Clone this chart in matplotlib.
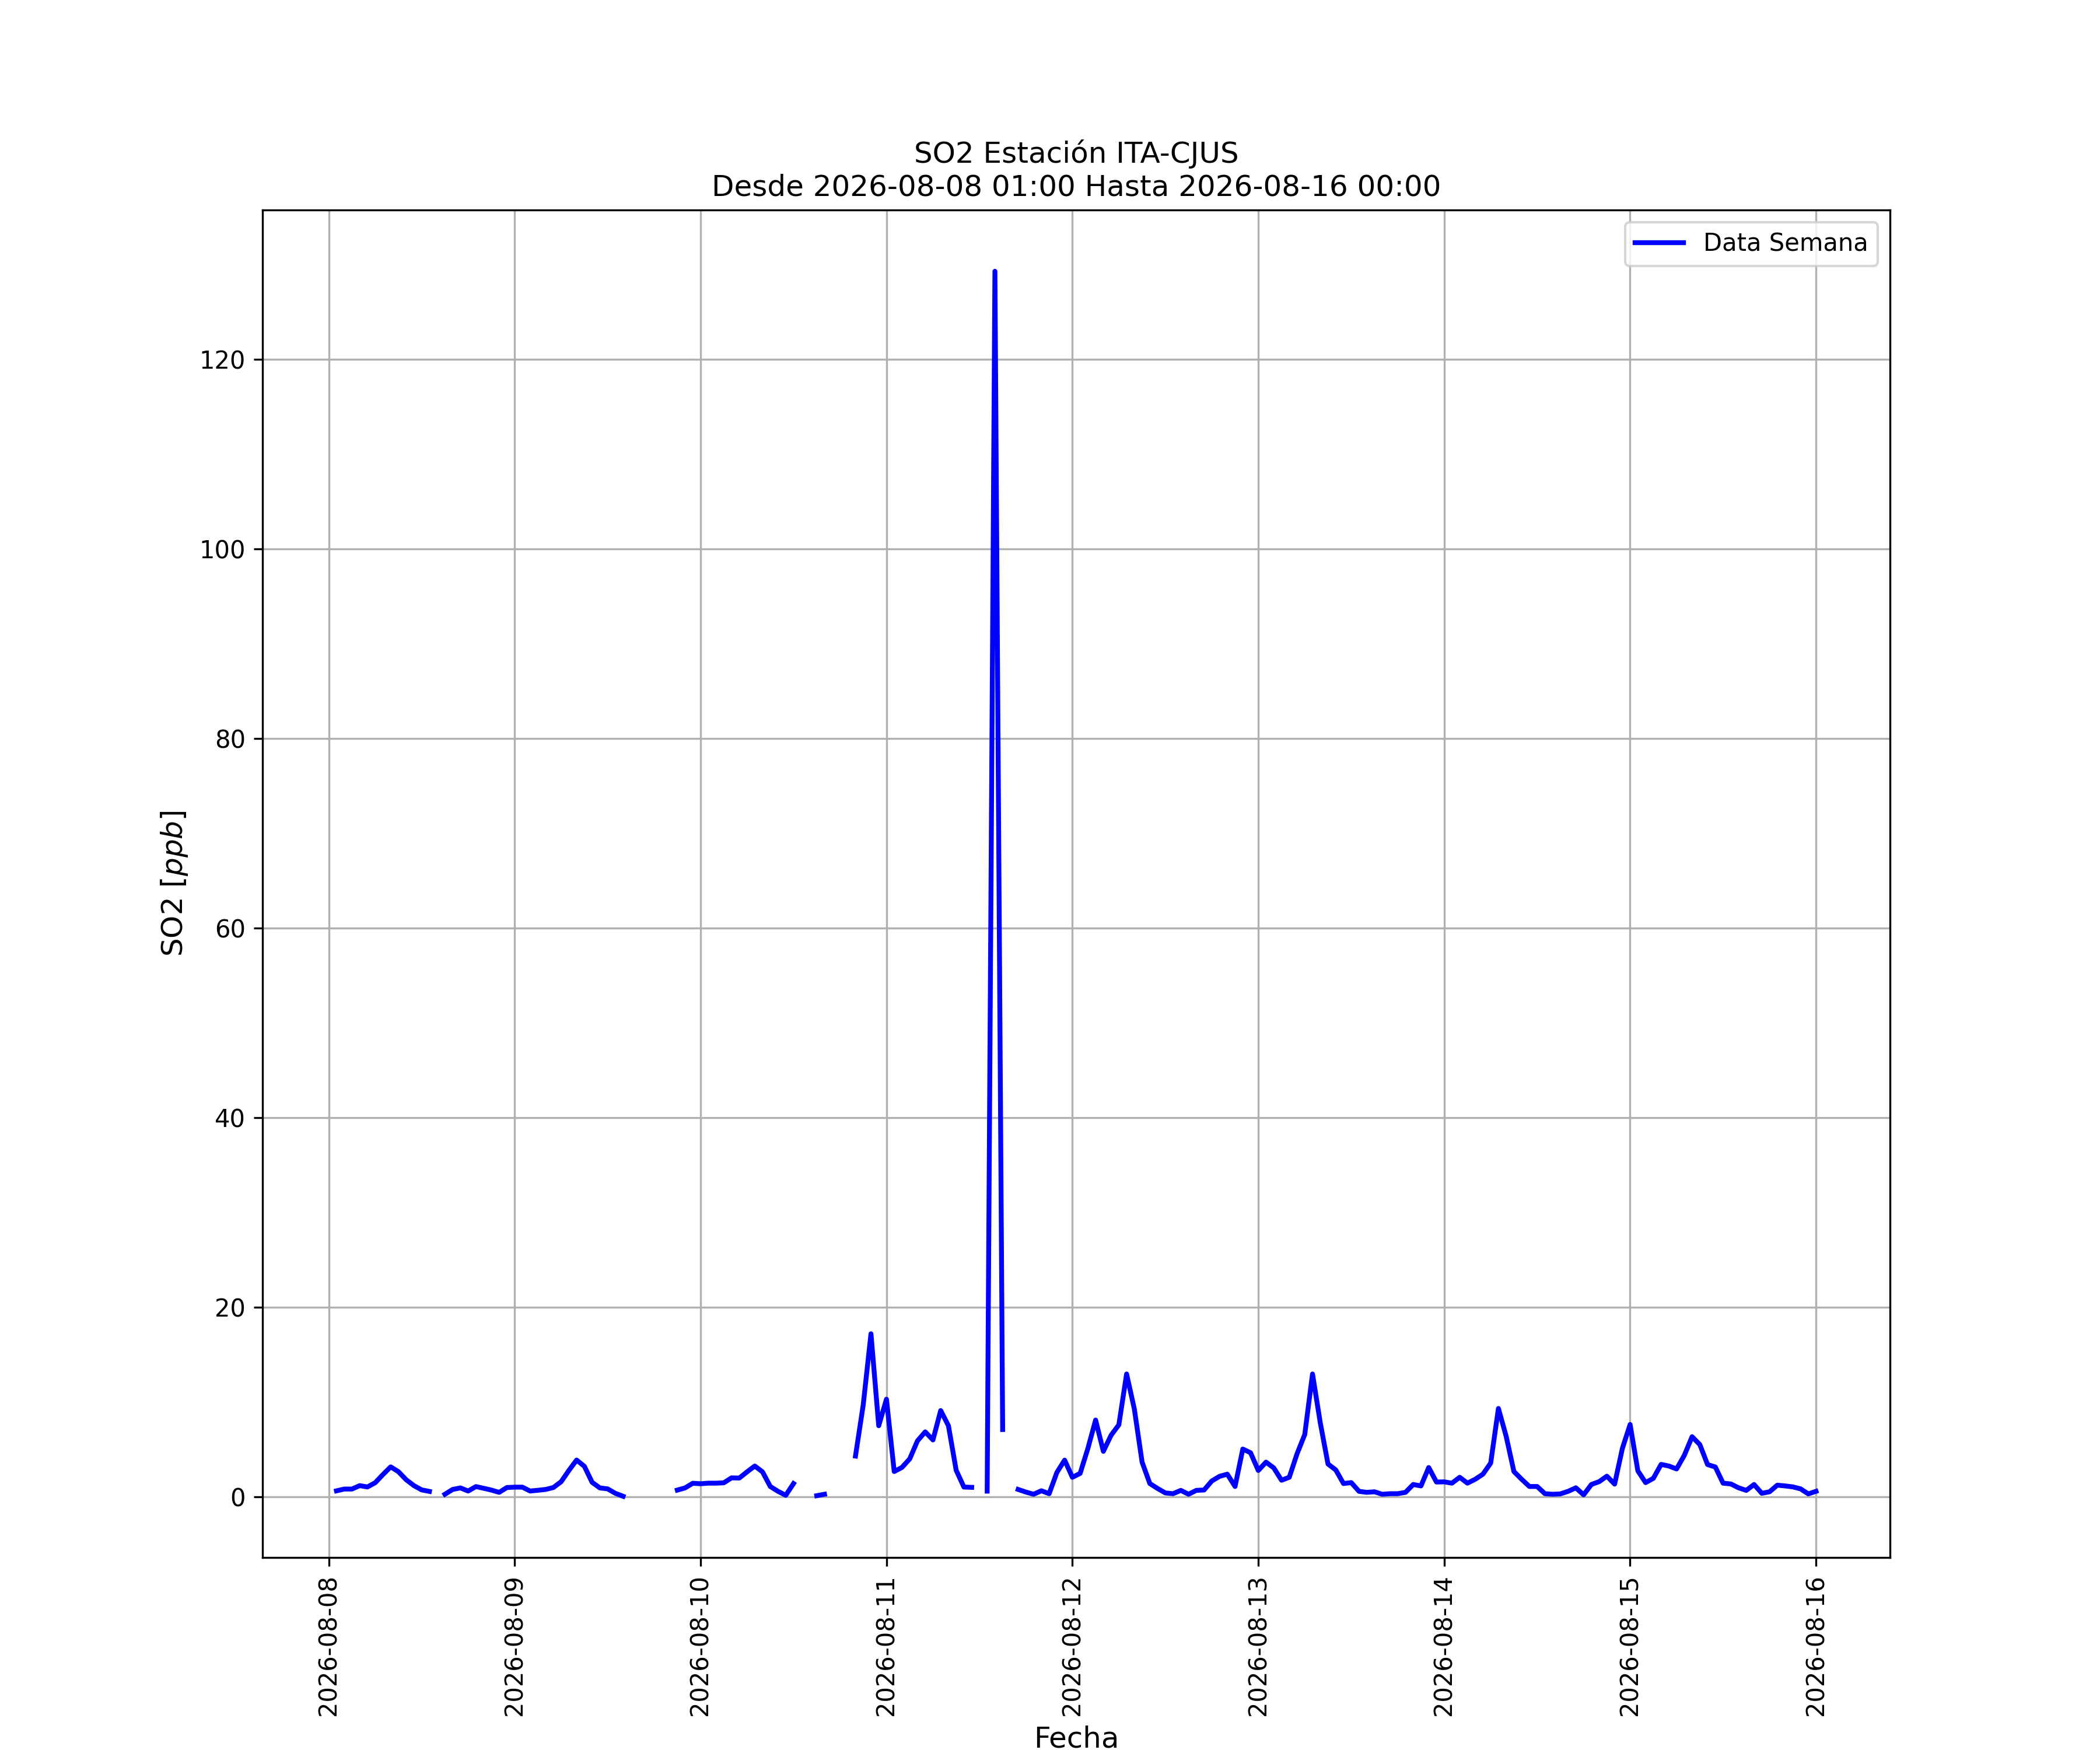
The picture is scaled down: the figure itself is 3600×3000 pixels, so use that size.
import numpy as np
import pandas as pd
import matplotlib
matplotlib.use("Agg")
import matplotlib.pyplot as plt
import matplotlib.dates as mdates

nan = np.nan

# hourly SO2 [ppb], 2026-08-08 01:00 .. 2026-08-16 00:00
dia_08 = [0.63, 0.82, 0.82, 1.18, 1.04, 1.49, 2.35, 3.16, 2.65, 1.8, 1.18, 0.73,
          0.57, nan, 0.27, 0.78, 0.94, 0.61, 1.08, 0.9, 0.71, 0.47, 0.98]
dia_09 = [1.02, 1.02, 0.61, 0.69, 0.78, 0.98, 1.59, 2.78, 3.88, 3.22, 1.53, 0.94,
          0.84, 0.37, 0.06, nan, nan, nan, nan, nan, nan, 0.71, 0.94, 1.43]
dia_10 = [1.38, 1.44, 1.44, 1.48, 2.0, 1.98, 2.63, 3.25, 2.63, 1.09, 0.58, 0.16,
          1.4, nan, nan, 0.12, 0.27, nan, nan, nan, 4.3, 9.7, 17.2, 7.5]
dia_11 = [10.3, 2.67, 3.1, 4.0, 5.9, 6.85, 6.0, 9.1, 7.5, 2.8, 1.03, 1.0,
          nan, 0.6, 129.3, 7.1, nan, 0.78, 0.5, 0.27, 0.64, 0.33, 2.57, 3.87]
dia_12 = [2.06, 2.47, 5.1, 8.1, 4.8, 6.5, 7.6, 12.96, 9.26, 3.66, 1.4, 0.88,
          0.41, 0.33, 0.68, 0.27, 0.68, 0.72, 1.67, 2.16, 2.39, 1.09, 5.04, 4.65]
dia_13 = [2.78, 3.66, 3.05, 1.75, 2.06, 4.53, 6.58, 12.96, 7.82, 3.46, 2.84, 1.4,
          1.5, 0.58, 0.47, 0.53, 0.27, 0.33, 0.33, 0.47, 1.3, 1.15, 3.09, 1.56]
dia_14 = [1.58, 1.44, 2.06, 1.44, 1.85, 2.39, 3.56, 9.32, 6.38, 2.67, 1.85, 1.09,
          1.09, 0.33, 0.27, 0.31, 0.58, 0.95, 0.21, 1.3, 1.6, 2.18, 1.34, 5.1]
dia_15 = [7.63, 2.74, 1.5, 1.95, 3.42, 3.25, 2.94, 4.38, 6.34, 5.51, 3.4, 3.15,
          1.44, 1.36, 0.95, 0.68, 1.3, 0.37, 0.53, 1.23, 1.15, 1.05, 0.84, 0.31]
dia_16 = [0.58]

inicio = "2026-08-08 01:00"
fin = "2026-08-16 00:00"

so2 = dia_08 + dia_09 + dia_10 + dia_11 + dia_12 + dia_13 + dia_14 + dia_15 + dia_16
fechas = pd.date_range(inicio, fin, freq="h")

fig, ax = plt.subplots(figsize=(12, 10))
ax.plot(fechas, so2, color="blue", linewidth=2, label="Data Semana")

ax.xaxis.set_major_locator(mdates.DayLocator())
ax.xaxis.set_major_formatter(mdates.DateFormatter("%Y-%m-%d"))
plt.setp(ax.get_xticklabels(), rotation=90)

ax.set_title("SO2 Estación ITA-CJUS\nDesde %s Hasta %s" % (inicio, fin), fontsize=12)
ax.set_xlabel("Fecha", fontsize=12)
ax.set_ylabel("SO2 [$ppb$]", fontsize=12)
ax.grid(True)
ax.legend(loc="upper right")

fig.savefig("out.png", dpi=300)
